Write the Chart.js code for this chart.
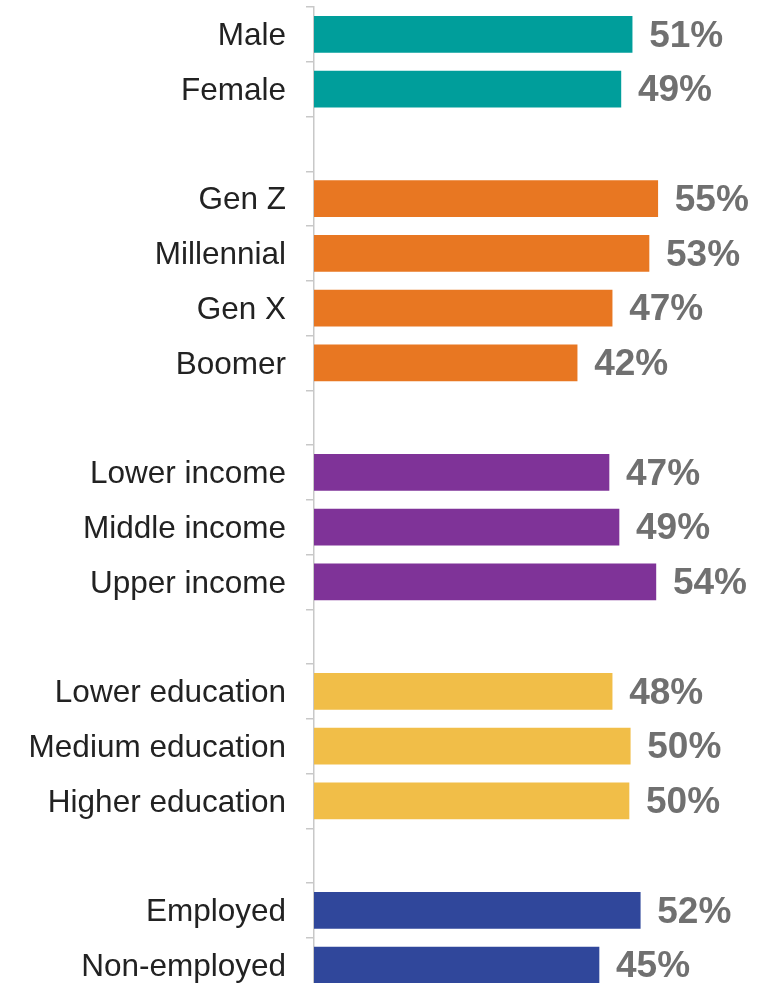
<!DOCTYPE html>
<html>
<head>
<meta charset="utf-8">
<script src="https://cdn.jsdelivr.net/npm/chart.js@4/dist/chart.umd.min.js"></script>
<style>
  html, body { margin: 0; padding: 0; overflow: hidden; background: #fff; }
  #wrap { width: 782px; height: 1000px; position: relative; }
</style>
</head>
<body>
<div id="wrap"><canvas id="bar-chart"></canvas></div>
<script>
// rows, '' = spacer between groups
const labels = [
  'Male', 'Female', '',
  'Gen Z', 'Millennial', 'Gen X', 'Boomer', '',
  'Lower income', 'Middle income', 'Upper income', '',
  'Lower education', 'Medium education', 'Higher education', '',
  'Employed', 'Non-employed'
];
// bar lengths (unrounded)
const values = [
  50.9, 49.1, null,
  55.0, 53.6, 47.7, 42.1, null,
  47.2, 48.8, 54.7, null,
  47.7, 50.6, 50.4, null,
  52.2, 45.6
];
// the rounded numbers printed next to the bars
const shown = [
  51, 49, null,
  55, 53, 47, 42, null,
  47, 49, 54, null,
  48, 50, 50, null,
  52, 45
];

const teal = '#009E9B';
const orange = '#E87722';
const purple = '#7F3398';
const yellow = '#F1BE48';
const navy = '#30479B';
const barColors = [
  teal, teal, teal,
  orange, orange, orange, orange, orange,
  purple, purple, purple, purple,
  yellow, yellow, yellow, yellow,
  navy, navy
];

// draws "51%" etc to the right of each bar
const valueLabels = {
  id: 'valueLabels',
  afterDatasetsDraw(chart) {
    const ctx = chart.ctx;
    const meta = chart.getDatasetMeta(0);
    ctx.save();
    ctx.font = 'bold 37px "Liberation Sans", Arial, sans-serif';
    ctx.fillStyle = '#707070';
    ctx.textAlign = 'left';
    ctx.textBaseline = 'middle';
    meta.data.forEach((bar, i) => {
      if (shown[i] == null) return;
      ctx.fillText(shown[i] + '%', bar.x + 17, bar.y + 2);
    });
    ctx.restore();
  }
};

new Chart(document.getElementById('bar-chart'), {
  type: 'bar',
  data: {
    labels: labels,
    datasets: [{
      data: values,
      backgroundColor: barColors,
      borderWidth: 0,
      barThickness: 36
    }]
  },
  options: {
    indexAxis: 'y',
    responsive: true,
    maintainAspectRatio: false,
    animation: false,
    layout: { padding: { top: 7, bottom: 7.5, left: 0, right: 0 } },
    plugins: {
      legend: { display: false },
      tooltip: { enabled: false }
    },
    scales: {
      x: {
        display: false,
        min: 0,
        max: 74.88
      },
      y: {
        afterFit(scale) {
          scale.width = 314;
          scale.paddingTop = 0;
          scale.paddingBottom = 0;
        },
        grid: {
          offset: true,
          drawOnChartArea: false,
          drawTicks: true,
          tickLength: 8,
          color: '#c8c8c8',
          lineWidth: 1.5
        },
        border: { display: true, color: '#c8c8c8', width: 1.5 },
        ticks: {
          padding: 20,
          labelOffset: 2,
          color: '#222222',
          font: { family: '"Liberation Sans", Arial, sans-serif', size: 31.5 }
        }
      }
    }
  },
  plugins: [valueLabels]
});
</script>
</body>
</html>
